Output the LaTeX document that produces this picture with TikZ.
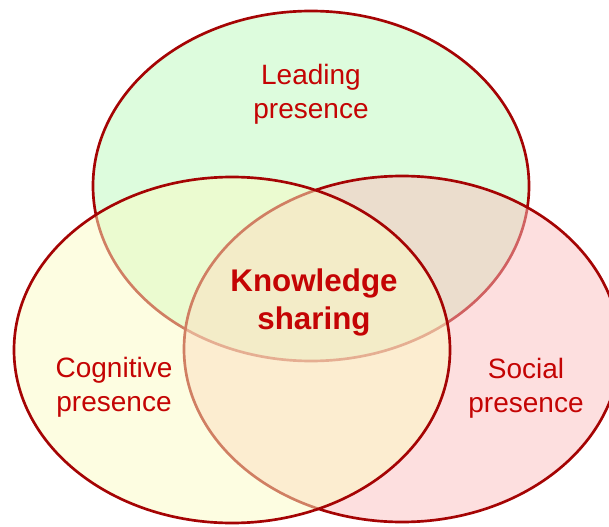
\documentclass[tikz,border=0pt]{standalone}
\usepackage{fontspec}
\setmainfont{Liberation Sans}
\tikzset{every picture/.style={line width=0.75pt}}
\tikzset{
venn/.style={draw={rgb, 255:red, 165; green, 4; blue, 4 }, line width=2pt, fill opacity=0.5},
lbl/.style={align=center, inner sep=0.75pt, text={rgb, 255:red, 196; green, 4; blue, 4 }, font=\fontsize{21}{25.5}\selectfont},
mainlbl/.style={lbl, font=\fontsize{23.5}{28.5}\selectfont\bfseries}}

\begin{document}
\begin{tikzpicture}[x=0.75pt,y=0.75pt,yscale=-1,xscale=1]
\useasboundingbox (0,0) rectangle (609,527);
\clip (0,0) rectangle (609,527);

%Shape: Ellipse [top]
\draw  [venn, fill={rgb, 255:red, 187; green, 249; blue, 187 }] (311,186) ellipse (218 and 175);
%Shape: Ellipse [right]
\draw  [venn, fill={rgb, 255:red, 251; green, 191; blue, 191 }] (402,349) ellipse (218 and 173);
%Shape: Ellipse [left]
\draw  [venn, fill={rgb, 255:red, 251; green, 251; blue, 195 }] (232,350) ellipse (218 and 173);

% Text Node
\draw (311,94) node [lbl] (leading) {Leading\\presence};
% Text Node
\draw (314,302) node [mainlbl] (knowledge) {Knowledge\\sharing};
% Text Node
\draw (114,387) node [lbl] (cognitive) {Cognitive\\presence};
% Text Node
\draw (526,388) node [lbl] (social) {Social\\presence};

\end{tikzpicture}
\end{document}
